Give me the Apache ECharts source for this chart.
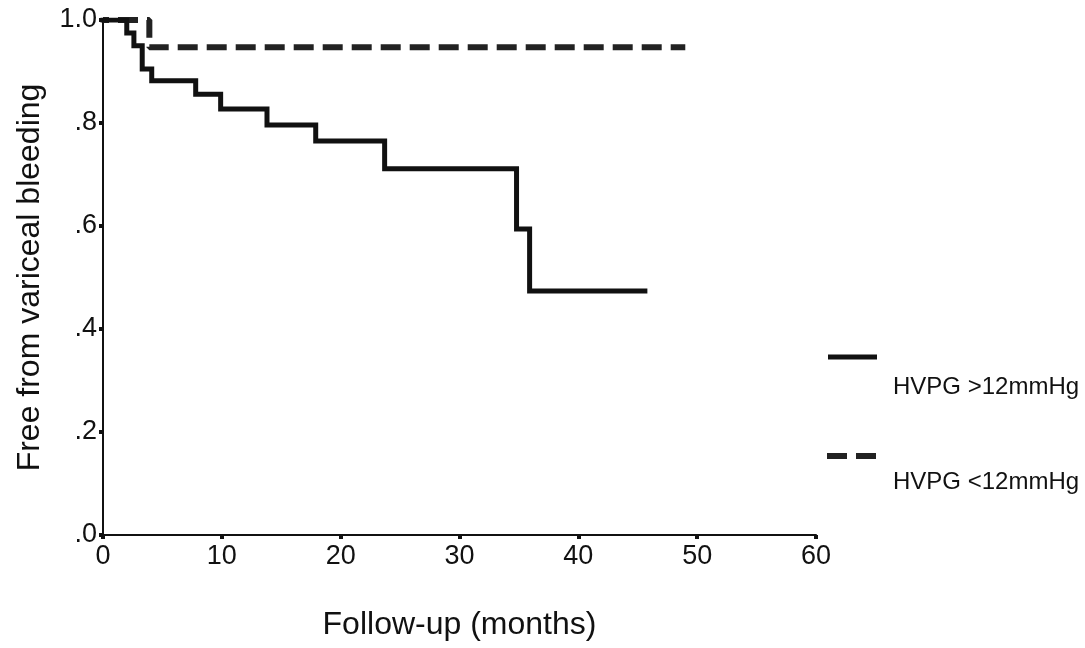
<!DOCTYPE html>
<html>
<head>
<meta charset="utf-8">
<title>Free from variceal bleeding</title>
<script src="https://cdn.jsdelivr.net/npm/echarts@6/dist/echarts.min.js"></script>
<style>
  html, body { margin: 0; padding: 0; background: #ffffff; }
  #chart { width: 1085px; height: 648px; }
</style>
</head>
<body>
<div id="chart"></div>
<script>
// Kaplan-Meier steps: month of each event and survival after it
const highTimes = [0, 2.0, 2.6, 3.3, 4.1, 7.8, 9.9, 13.8, 17.9, 23.7, 34.8, 35.9, 45.6];
const highSurvival = [1.0, 0.975, 0.95, 0.905, 0.882, 0.856, 0.827, 0.796, 0.765, 0.711, 0.594, 0.474, 0.474];
const lowTimes = [0, 3.9, 49.0];
const lowSurvival = [1.0, 0.947, 0.947];

const xTicks = [0, 10, 20, 30, 40, 50, 60];
const yTickLabels = ['.0', '.2', '.4', '.6', '.8', '1.0'];
const seriesNames = ['HVPG >12mmHg', 'HVPG <12mmHg'];
const xTitle = 'Follow-up (months)';
const yTitle = 'Free from variceal bleeding';

const FONT = "'Liberation Sans', Arial, sans-serif";
const pairs = (xs, ys) => xs.map((x, i) => [x, ys[i]]);

const chart = echarts.init(document.getElementById('chart'), null, { renderer: 'canvas' });

const axisLine = { show: true, lineStyle: { color: '#111', width: 2 } };
const axisTick = { show: true, inside: false, length: 4, lineStyle: { color: '#111', width: 4 } };

chart.setOption({
  backgroundColor: '#ffffff',
  animation: false,
  grid: { left: 103, right: 269, top: 20, bottom: 113, containLabel: false },
  xAxis: {
    type: 'value',
    min: xTicks[0],
    max: xTicks[xTicks.length - 1],
    interval: xTicks[1] - xTicks[0],
    name: xTitle,
    nameLocation: 'middle',
    nameGap: 74,
    nameTextStyle: { fontFamily: FONT, fontSize: 32, color: '#111' },
    axisLine, axisTick,
    splitLine: { show: false },
    axisLabel: { fontFamily: FONT, fontSize: 27, color: '#111', margin: 8 }
  },
  yAxis: {
    type: 'value',
    min: 0,
    max: 1,
    interval: 0.2,
    name: yTitle,
    nameLocation: 'middle',
    nameGap: 57,
    nameTextStyle: { fontFamily: FONT, fontSize: 32, color: '#111' },
    axisLine, axisTick,
    splitLine: { show: false },
    axisLabel: {
      fontFamily: FONT, fontSize: 27, color: '#111', margin: 6,
      formatter: (v) => yTickLabels[Math.round(v / 0.2)]
    }
  },
  series: [
    {
      name: seriesNames[0],
      type: 'line',
      step: 'end',
      symbol: 'none',
      data: pairs(highTimes, highSurvival),
      lineStyle: { color: '#111', width: 5, cap: 'square', join: 'miter' },
      z: 3
    },
    {
      name: seriesNames[1],
      type: 'line',
      step: 'end',
      symbol: 'none',
      data: pairs(lowTimes, lowSurvival),
      lineStyle: { color: '#222', width: 6, type: [20, 9], dashOffset: 14, cap: 'butt' },
      z: 2
    }
  ],
  graphic: [
    { type: 'line', shape: { x1: 828, y1: 357, x2: 877, y2: 357 }, style: { stroke: '#111', lineWidth: 5 } },
    { type: 'text', left: 893, top: 375, style: { text: seriesNames[0], font: '24px ' + FONT, fill: '#111' } },
    { type: 'line', shape: { x1: 827, y1: 456, x2: 876, y2: 456 }, style: { stroke: '#222', lineWidth: 6, lineDash: [20, 9] } },
    { type: 'text', left: 893, top: 470, style: { text: seriesNames[1], font: '24px ' + FONT, fill: '#111' } }
  ]
});
</script>
</body>
</html>
